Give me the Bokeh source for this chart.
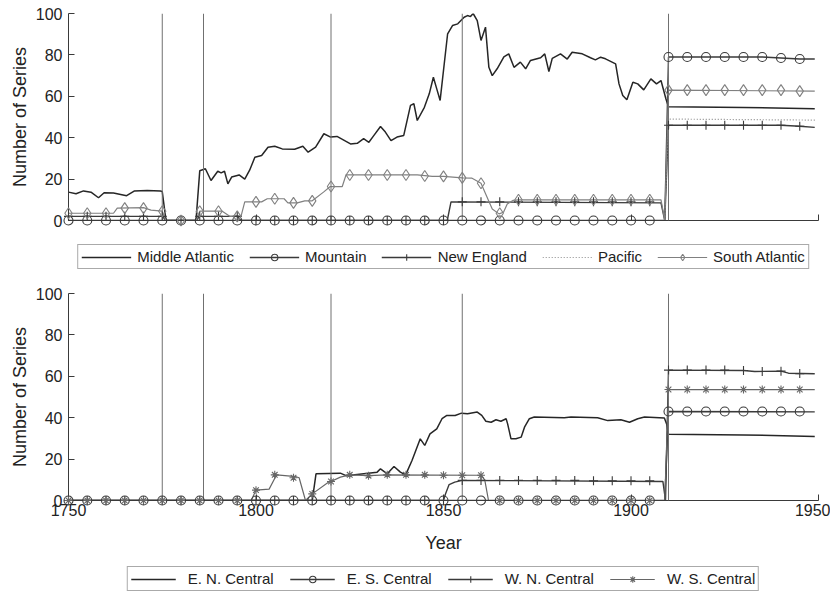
from bokeh.plotting import figure
from bokeh.models import Range1d, FixedTicker, Span, Legend, LegendItem
from bokeh.layouts import column
from bokeh.embed import file_html
from bokeh.resources import INLINE

# ---------------- data ----------------
X_TICKS = [1750, 1800, 1850, 1900, 1950]
Y_TICKS = [0, 20, 40, 60, 80, 100]
EVENT_YEARS = [1775, 1786, 1820, 1855, 1910]
MARK_YEARS = list(range(1750, 1950, 5))

# top panel
mid_atl_x = [1750, 1752, 1754, 1756, 1758, 1759.5, 1762, 1765.5, 1767.5, 1771, 1774.5, 1775, 1776,
             1784, 1785, 1786.5, 1788, 1789.8, 1790.7, 1791.6, 1792.5, 1793.5, 1795.5, 1797, 1798.3,
             1799.7, 1801.5, 1803.2, 1805, 1807, 1810.3, 1812.5, 1813.9, 1815.9, 1818.1, 1819.9,
             1821.6, 1825.2, 1827, 1828.7, 1830.1, 1831.4, 1833.2, 1834.5, 1836, 1837.6, 1839.4,
             1841.2, 1842.1, 1843, 1844.9, 1846.2, 1847.3, 1848.2, 1849.1, 1851.1, 1852.4, 1853.8,
             1855.5, 1856.4, 1857.2, 1857.9, 1859, 1860, 1861.2, 1862.1, 1863, 1864.3, 1866.1,
             1867.4, 1868.8, 1870.5, 1871.9, 1873.2, 1875.9, 1877, 1878.1, 1879, 1881.2, 1883,
             1884.3, 1887, 1889.2, 1890.5, 1891.9, 1893.2, 1895.9, 1896.8, 1897.8, 1898.9, 1900.5,
             1901.8, 1903.4, 1905.3, 1906.8, 1908, 1909.3, 1910, 1930, 1949]
mid_atl_y = [13.7, 12.9, 14.3, 13.7, 11, 13.4, 13.3, 12, 14.2, 14.5, 14.2, 14, 0,
             0, 24, 25, 19.3, 23.8, 23, 23.8, 17.7, 21, 22, 20, 24.3,
             30.6, 31.4, 35.4, 35.9, 34.6, 34.4, 35.9, 33, 35.4, 41.9, 40.3,
             40.6, 37, 37.3, 39.5, 37.8, 41, 45.4, 42.7, 38.6, 40.3, 41.1,
             55.6, 56.4, 48.3, 54.7, 61.2, 69.2, 63.6, 58, 90.2, 94.2, 95,
             98.2, 99, 98.5, 100, 96.6, 87, 93.4, 74, 70, 73.3, 79,
             80.5, 74, 76.5, 73.3, 77.3, 78.6, 80.5, 72, 78.3, 80.5, 78,
             81.3, 80.5, 78.6, 77.6, 78.9, 78.1, 75.7, 66, 60.4, 58.3, 66.8,
             66, 63.1, 68.4, 66, 67.6, 58.8, 55, 54.6, 54]

mountain_x = [1750, 1909, 1910, 1935, 1945, 1949]
mountain_y = [0, 0, 79, 79, 78, 78]
mountain_mk = [0, 0, 0, 0, 0, 0, 0, 0, 0, 0,
               0, 0, 0, 0, 0, 0, 0, 0, 0, 0,
               0, 0, 0, 0, 0, 0, 0, 0, 0, 0,
               0, 0, 79, 79, 79, 79, 79, 79, 78.5, 78]

new_eng_x = [1750, 1775, 1776, 1784, 1785, 1795, 1796, 1851, 1852, 1908, 1909, 1910, 1940, 1945, 1949]
new_eng_y = [2, 2, 0, 0, 2, 2, 0, 0, 9, 8.5, 0, 46, 46, 45.5, 45]
new_eng_mk = [2, 2, 2, 2, 2, 2, 0, 2, 2, 2,
              0, 0, 0, 0, 0, 0, 0, 0, 0, 0,
              0, 9, 9, 9, 9, 9, 9, 9, 9, 9,
              9, 9, 46, 46, 46, 46, 46, 46, 46, 45.5]

pacific_x = [1750, 1909, 1910, 1949]
pacific_y = [0, 0, 49, 48.5]

south_atl_x = [1750, 1762, 1763, 1770, 1772, 1775, 1776, 1784, 1785, 1791, 1793, 1796, 1797, 1801.5,
               1803, 1807.5, 1808.5, 1811, 1813, 1815, 1818, 1819.8, 1823, 1824, 1843, 1847, 1850,
               1855, 1857.5, 1860, 1862, 1863, 1864.8, 1866, 1867, 1868.5, 1870, 1908, 1909, 1910, 1949]
south_atl_y = [3.5, 3.5, 6, 6.2, 5, 4.5, 0, 0, 4.5, 4.5, 2, 2, 9, 9,
               10.5, 10.5, 8.5, 8.5, 9.5, 9.5, 13.7, 16.4, 16.4, 22, 22, 21.3, 21.3,
               20.6, 20.5, 18, 9.7, 5.6, 3.2, 4, 8, 9.7, 10, 10, 0, 63, 62.5]
south_atl_mk = [3.5, 3.5, 3.5, 6, 6, 4.5, 0, 4.5, 4.5, 2,
                9, 10.5, 8.5, 9.5, 16.4, 22, 22, 22, 22, 21.5,
                21.3, 20.6, 18, 3.5, 10, 10, 10, 10, 10, 10,
                10, 10, 63, 63, 63, 63, 63, 63, 63, 62.5]

# bottom panel
en_cen_x = [1750, 1815, 1816, 1822.5, 1824, 1832.3, 1833.2, 1835, 1836.8, 1838.5, 1839.9, 1841.6,
            1843.8, 1845, 1846.4, 1848.2, 1849.6, 1850.9, 1853.1, 1854.8, 1856.4, 1859, 1860.2,
            1861.3, 1862.7, 1864, 1865.3, 1866.7, 1867.1, 1868, 1869.3, 1870.7, 1871.6, 1872.9,
            1874.2, 1882.2, 1884, 1891.1, 1893.8, 1897.3, 1899.6, 1901.8, 1903.6, 1908.9, 1909.5,
            1910, 1930, 1949]
en_cen_y = [0, 0, 12.9, 13.2, 12, 13.7, 15.3, 12.9, 16.4, 13.7, 12.4, 19.3,
            29.8, 26.6, 32.2, 34.6, 39.5, 41.1, 41.1, 42.2, 41.9, 42.7, 41.1,
            38.3, 37.8, 39, 38.3, 39.5, 37, 29.8, 29.8, 30.6, 35.4, 39.5,
            40.3, 40, 40.3, 40, 38.6, 39, 37.8, 39.5, 40.3, 39.9, 37,
            32, 31.7, 30.9]

es_cen_x = [1750, 1909, 1910, 1949]
es_cen_y = [0, 0, 43, 42.8]
es_cen_mk = [0, 0, 0, 0, 0, 0, 0, 0, 0, 0,
             0, 0, 0, 0, 0, 0, 0, 0, 0, 0,
             0, 0, 0, 0, 0, 0, 0, 0, 0, 0,
             0, 0, 43, 43, 43, 43, 43, 43, 43, 43]

wn_cen_x = [1750, 1850, 1850.5, 1851.5, 1853, 1855, 1908.5, 1909.2, 1910, 1930, 1933, 1940, 1942, 1949]
wn_cen_y = [0, 0, 3, 7.7, 8.9, 9.7, 9.2, 0, 63, 62.8, 62.3, 62.5, 61.5, 61.2]
wn_cen_mk = [0, 0, 0, 0, 0, 0, 0, 0, 0, 0,
             0, 0, 0, 0, 0, 0, 0, 0, 0, 0,
             0, 9.7, 9.7, 9.7, 9.7, 9.7, 9.7, 9.7, 9.5, 9.5,
             9.5, 9.5, 63, 63, 63, 63, 62.8, 62.3, 62.5, 61.3]

ws_cen_x = [1750, 1798.7, 1800, 1803.5, 1805.5, 1810.7, 1811.5, 1813.2, 1815, 1819.4, 1820, 1822.5,
            1825, 1830, 1835, 1860, 1861, 1862, 1909, 1910, 1949]
ws_cen_y = [0, 0, 5, 5.5, 12.4, 11.5, 11, 0, 3.2, 8.9, 9.2, 11.3,
            12.4, 12, 12.4, 12.2, 10, 0, 0, 53.6, 53.6]
ws_cen_mk = [0, 0, 0, 0, 0, 0, 0, 0, 0, 0,
             5, 12.4, 11, 3.2, 9.2, 12.4, 12, 12.4, 12.4, 12.4,
             12.2, 12.2, 12.2, 0, 0, 0, 0, 0, 0, 0,
             0, 0, 53.6, 53.6, 53.6, 53.6, 53.6, 53.6, 53.6, 53.6]

TOP_LABELS = ["Middle Atlantic", "Mountain", "New England", "Pacific", "South Atlantic"]
BOTTOM_LABELS = ["E. N. Central", "E. S. Central", "W. N. Central", "W. S. Central"]

# ---------------- styling ----------------
FONT = "Liberation Sans"
DARK = "#262626"
MID = "#3a3a3a"
GREY = "#808080"
TXT = "#222222"
WIDTH = 830

# style of each series: (color, line width, dash, marker, marker size)
TOP_STYLE = [(DARK, 1.5, "solid", None, 0), (MID, 1.4, "solid", "circle", 9),
             (MID, 1.4, "solid", "cross", 9), ("#8a8a8a", 1.2, "1 2", None, 0),
             (GREY, 1.2, "solid", "diamond", 11)]
BOTTOM_STYLE = [(DARK, 1.5, "solid", None, 0), (MID, 1.4, "solid", "circle", 9),
                (MID, 1.4, "solid", "cross", 9), ("#666666", 1.2, "solid", "asterisk", 8)]


def make_fig(show_xlabels, height, min_top, min_bottom):
    p = figure(width=WIDTH, height=height,
               x_range=Range1d(1750, 1950), y_range=Range1d(0, 100),
               output_backend="svg", toolbar_location=None,
               min_border_left=68, min_border_right=12,
               min_border_top=min_top, min_border_bottom=min_bottom)
    p.outline_line_color = None
    p.xgrid.visible = False
    p.ygrid.visible = False
    p.xaxis.ticker = FixedTicker(ticks=X_TICKS)
    p.yaxis.ticker = FixedTicker(ticks=Y_TICKS)
    for ax in (p.xaxis[0], p.yaxis[0]):
        ax.axis_line_color = MID
        ax.axis_line_width = 1
        ax.major_tick_line_color = MID
        ax.major_tick_in = 6
        ax.major_tick_out = 0
        ax.minor_tick_line_color = None
        ax.major_label_text_font = FONT
        ax.major_label_text_font_size = "16px"
        ax.major_label_text_color = TXT
        ax.axis_label_text_font = FONT
        ax.axis_label_text_font_size = "18px"
        ax.axis_label_text_font_style = "normal"
        ax.axis_label_text_color = TXT
    p.yaxis.axis_label = "Number of Series"
    p.yaxis.major_label_standoff = 6
    p.yaxis.axis_label_standoff = 3
    if show_xlabels:
        p.xaxis.axis_label = "Year"
        p.xaxis.major_label_standoff = 3
        p.xaxis.axis_label_standoff = 14
    else:
        p.xaxis.major_label_text_font_size = "0px"
        p.xaxis.major_label_text_alpha = 0
        p.xaxis.major_label_standoff = 0
    for yr in EVENT_YEARS:
        p.add_layout(Span(location=yr, dimension="height", line_color="#707070", line_width=1))
    return p


def add_series(p, x, y, style, mk=None):
    color, width, dash, marker, size = style
    p.line(x, y, line_color=color, line_width=width, line_dash=dash)
    if mk is not None:
        p.scatter(MARK_YEARS, mk, marker=marker, size=size, fill_color=None,
                  line_color=color, line_width=1.1, level="overlay")


def legend_fig(labels, styles, height, margin, glyph_w, standoff, spacing):
    f = figure(width=WIDTH, height=height, x_range=Range1d(0, 1), y_range=Range1d(0, 1),
               output_backend="svg", toolbar_location=None,
               x_axis_location=None, y_axis_location=None,
               min_border_left=68, min_border_right=12, min_border_top=0, min_border_bottom=0)
    f.outline_line_color = None
    f.xgrid.visible = False
    f.ygrid.visible = False
    items = []
    for label, (color, width, dash, marker, size) in zip(labels, styles):
        rs = [f.line([float("nan")], [float("nan")], line_color=color, line_width=width, line_dash=dash)]
        if marker is not None:
            rs.append(f.scatter([float("nan")], [float("nan")], marker=marker, size=size,
                                fill_color=None, line_color=color, line_width=1.1))
        items.append(LegendItem(label=label, renderers=rs))
    lg = Legend(items=items, location="top_center", orientation="horizontal")
    lg.label_text_font = FONT
    lg.label_text_font_size = "15px"
    lg.label_text_color = TXT
    lg.border_line_color = "#555555"
    lg.border_line_width = 1
    lg.background_fill_color = "white"
    lg.background_fill_alpha = 1
    lg.glyph_width = glyph_w
    lg.glyph_height = 16
    lg.label_height = 16
    lg.label_standoff = standoff
    lg.spacing = spacing
    lg.padding = 3
    lg.margin = margin
    f.add_layout(lg)
    return f


# ---------------- top panel ----------------
p1 = make_fig(False, 244, 13, 24)
add_series(p1, mid_atl_x, mid_atl_y, TOP_STYLE[0])
add_series(p1, mountain_x, mountain_y, TOP_STYLE[1], mountain_mk)
add_series(p1, new_eng_x, new_eng_y, TOP_STYLE[2], new_eng_mk)
add_series(p1, pacific_x, pacific_y, TOP_STYLE[3])
add_series(p1, south_atl_x, south_atl_y, TOP_STYLE[4], south_atl_mk)
leg1 = legend_fig(TOP_LABELS, TOP_STYLE, 35, 0, 50, 6, 15)

# ---------------- bottom panel ----------------
p2 = make_fig(True, 277, 14, 56)
add_series(p2, en_cen_x, en_cen_y, BOTTOM_STYLE[0])
add_series(p2, es_cen_x, es_cen_y, BOTTOM_STYLE[1], es_cen_mk)
add_series(p2, wn_cen_x, wn_cen_y, BOTTOM_STYLE[2], wn_cen_mk)
add_series(p2, ws_cen_x, ws_cen_y, BOTTOM_STYLE[3], ws_cen_mk)
leg2 = legend_fig(BOTTOM_LABELS, BOTTOM_STYLE, 35, 10, 45, 12, 16)

layout = column(p1, leg1, p2, leg2)
open("out.html", "w").write(file_html(layout, INLINE))
